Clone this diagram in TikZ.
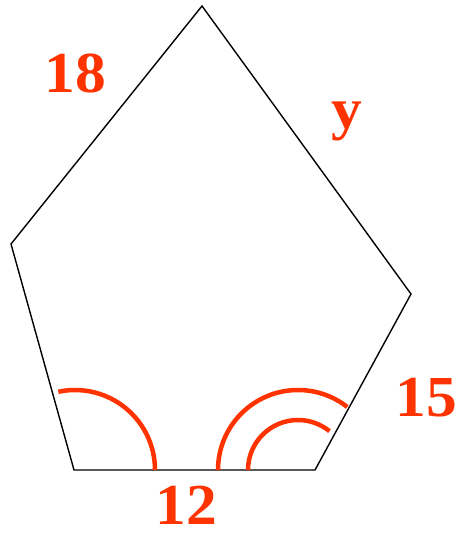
\documentclass[tikz,border=0pt]{standalone}
\usepackage{fontspec}
\setmainfont{Liberation Serif}
\definecolor{markred}{RGB}{255,51,0}
\begin{document}
\begin{tikzpicture}[x=1pt,y=1pt,
    angmark/.style={markred, line width=4.5pt},
    sidelbl/.style={markred, inner sep=0pt, anchor=base, xscale=1.06, font=\fontsize{58}{64}\bfseries}]
            \useasboundingbox (0,0) rectangle (461,538);
            \coordinate (top) at (202,532);
            \coordinate (lft) at (11,294);
            \coordinate (bl) at (74,68);
            \coordinate (br) at (315,68);
            \coordinate (rgt) at (411,244);
            \draw[line width=1.4pt, line join=miter] (top) -- (lft) -- (bl) -- (br) -- (rgt) -- cycle;
            
            \coordinate (cl) at (75,68);
            \coordinate (cr) at (298,68);
            \draw[angmark] (cl) ++(102:80) arc[start angle=102, end angle=0, radius=80];
            \draw[angmark] (cr) ++(180:80) arc[start angle=180, end angle=52, radius=80];
            \draw[angmark] (cr) ++(180:50) arc[start angle=180, end angle=51, radius=50];
            
            \node[sidelbl] (l18) at (75,445) {18};
            \node[sidelbl] (ly) at (347,409) {y};
            \node[sidelbl] (l15) at (426,121) {15};
            \node[sidelbl] (l12) at (186,13) {12};
        \end{tikzpicture}
\end{document}
